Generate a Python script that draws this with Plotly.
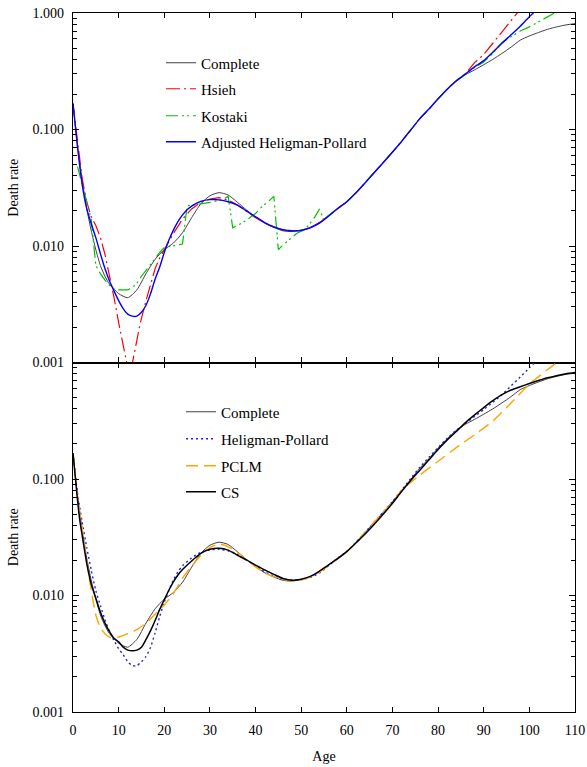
import plotly.graph_objects as go

# ---------------- data ----------------
ages_complete = [0, 1, 2, 3, 4, 5, 6, 7, 8, 10, 12, 14, 16, 18, 20, 22, 24, 26, 28, 30, 32, 34, 36, 38, 40,
                 42, 44, 46, 48, 50, 52, 54, 56, 58, 60, 62, 65, 68, 70, 72, 74, 76, 78, 80, 82, 84, 86, 88,
                 90, 92, 94, 96, 98, 100, 102, 104, 106, 108, 110]
rate_complete = [0.167, 0.072, 0.037, 0.021, 0.0135, 0.0093, 0.0068, 0.0055, 0.0047, 0.0039, 0.0036, 0.0042,
                 0.0058, 0.0077, 0.0093, 0.0106, 0.0130, 0.0175, 0.0230, 0.027, 0.0287, 0.0274, 0.0238, 0.0204,
                 0.0177, 0.0157, 0.0144, 0.0135, 0.0133, 0.0137, 0.0145, 0.016, 0.0183, 0.021, 0.0240, 0.0286,
                 0.0385, 0.052, 0.064, 0.079, 0.099, 0.124, 0.150, 0.184, 0.222, 0.262, 0.295, 0.325, 0.36,
                 0.40, 0.45, 0.51, 0.585, 0.635, 0.68, 0.725, 0.76, 0.79, 0.81]

ages_hsieh = [0, 1, 2, 3, 4, 5, 6, 7, 8, 9, 10, 11, 12, 12.4, 13, 14, 14.7, 16, 17, 18, 19, 20, 21, 22, 24, 26,
              28, 30, 32, 34, 36, 38, 40, 42, 44, 46, 48, 50, 52, 54, 56, 58, 60, 62, 65, 68, 70, 72, 74, 76,
              78, 80, 82, 84, 86, 88, 90, 92, 94, 96, 98, 100]
rate_hsieh = [0.167, 0.075, 0.038, 0.024, 0.0178, 0.0150, 0.0118, 0.0085, 0.0056, 0.0036, 0.0022, 0.00145,
              0.0009, 0.00075, 0.00098, 0.00155, 0.00215, 0.0034, 0.0047, 0.0064, 0.0079, 0.0093, 0.0108,
              0.0128, 0.017, 0.0208, 0.0238, 0.0253, 0.026, 0.0248, 0.0226, 0.0198, 0.0175, 0.0158, 0.0146,
              0.0138, 0.0135, 0.0136, 0.0143, 0.0158, 0.0182, 0.021, 0.0240, 0.0286, 0.0385, 0.052, 0.064,
              0.079, 0.099, 0.124, 0.150, 0.184, 0.222, 0.262, 0.30, 0.375, 0.44, 0.55, 0.69, 0.86, 1.08, 1.35]

ages_kostaki = [1, 2, 3, 4, 5, 6, 7, 8, 9, 10, 11, 12, 13, 14, 15, 16, 17, 18, 19, 20, 21, 22, 23, 24, 25,
                26, 27, 28, 29, 30, 31, 32, 33, 34, 35, 36, 37, 38, 39, 40, 41, 42, 43, 44, 45, 46, 47, 48,
                49, 50, 51, 52, 53, 54, 55, 56, 58, 60, 62, 65, 68, 70, 72, 74, 76, 78, 80, 82, 84, 86, 88,
                90, 92, 94, 96, 98, 100, 102, 104, 106, 108]
rate_kostaki = [0.048, 0.034, 0.0245, 0.017, 0.0068, 0.0058, 0.0051, 0.0046, 0.0043, 0.0042, 0.0042, 0.0042,
                0.0044, 0.0048, 0.0055, 0.0062, 0.0070, 0.0078, 0.0088, 0.0097, 0.0099, 0.0101, 0.0102,
                0.0104, 0.0222, 0.0224, 0.0226, 0.0229, 0.0233, 0.0237, 0.0241, 0.0246, 0.0252, 0.0267,
                0.0143, 0.015, 0.0158, 0.0166, 0.0178, 0.019, 0.021, 0.0225, 0.0245, 0.0267, 0.0093, 0.0102,
                0.011, 0.0119, 0.0128, 0.0134, 0.0141, 0.0158, 0.0178, 0.0208, 0.0166, 0.0183, 0.021, 0.0240,
                0.0286, 0.0385, 0.052, 0.064, 0.079, 0.099, 0.124, 0.150, 0.184, 0.222, 0.262, 0.30, 0.34,
                0.38, 0.45, 0.56, 0.63, 0.70, 0.76, 0.84, 0.93, 1.03, 1.13]

ages_adjhp = [0, 1, 2, 3, 4, 5, 6, 7, 8, 9, 10, 11, 12, 13, 14, 15, 16, 17, 18, 19, 20, 21, 22, 23, 24, 25, 26,
              28, 30, 32, 34, 36, 38, 40, 42, 44, 46, 48, 50, 52, 54, 56, 58, 60, 62, 65, 68, 70, 72, 74, 76,
              78, 80, 82, 84, 86, 88, 90, 92, 94, 96, 98, 100, 102]
rate_adjhp = [0.167, 0.07, 0.034, 0.021, 0.0155, 0.0118, 0.0086, 0.0064, 0.0050, 0.0041, 0.0034, 0.0029,
              0.0026, 0.0025, 0.0025, 0.0027, 0.0031, 0.0039, 0.0052, 0.0066, 0.0088, 0.0112, 0.0137, 0.0162,
              0.0185, 0.0205, 0.0220, 0.0242, 0.025, 0.0249, 0.024, 0.0224, 0.02, 0.0178, 0.0159, 0.0146,
              0.0138, 0.0135, 0.0136, 0.0143, 0.0157, 0.0180, 0.021, 0.0240, 0.0286, 0.0385, 0.052, 0.064,
              0.079, 0.099, 0.124, 0.150, 0.184, 0.222, 0.262, 0.30, 0.345, 0.39, 0.46, 0.55, 0.65, 0.77,
              0.93, 1.1]

ages_hp = [0, 1, 2, 3, 4, 5, 6, 7, 8, 9, 10, 11, 12, 13, 14, 15, 16, 17, 18, 19, 20, 21, 22, 23, 24, 26, 28,
           30, 32, 34, 36, 38, 40, 42, 44, 46, 48, 50, 52, 54, 56, 58, 60, 62, 65, 68, 70, 72, 74, 76, 78, 80,
           82, 84, 86, 88, 90, 92, 94, 96, 98, 100, 102]
rate_hp = [0.167, 0.075, 0.043, 0.026, 0.0165, 0.011, 0.0082, 0.0062, 0.0049, 0.0041, 0.0035, 0.0031, 0.0027,
           0.0025, 0.0025, 0.0027, 0.0030, 0.0036, 0.0048, 0.0066, 0.0088, 0.011, 0.0136, 0.016, 0.0180,
           0.0210, 0.0235, 0.0246, 0.0249, 0.0242, 0.0226, 0.0202, 0.018, 0.016, 0.0147, 0.0139, 0.0136,
           0.0137, 0.0143, 0.0156, 0.018, 0.021, 0.0240, 0.0286, 0.0385, 0.052, 0.064, 0.08, 0.101, 0.126,
           0.154, 0.186, 0.224, 0.263, 0.30, 0.345, 0.395, 0.455, 0.53, 0.63, 0.75, 0.9, 1.08]

ages_pclm = [0, 1, 2, 3, 4, 5, 6, 7, 8, 9, 10, 12, 14, 16, 18, 20, 22, 24, 26, 28, 30, 32, 34, 36, 38, 40, 42,
             44, 46, 48, 50, 52, 54, 56, 58, 60, 62, 65, 68, 70, 72, 76, 80, 84, 88, 92, 96, 100, 104, 106, 108]
rate_pclm = [0.167, 0.07, 0.038, 0.02, 0.011, 0.0068, 0.0053, 0.0047, 0.0044, 0.0043, 0.0044, 0.0047, 0.0051,
             0.0058, 0.0069, 0.0083, 0.0104, 0.0141, 0.0178, 0.022, 0.0258, 0.0277, 0.0262, 0.0235, 0.0203,
             0.0176, 0.0157, 0.0145, 0.0137, 0.0134, 0.0136, 0.0144, 0.0158, 0.0180, 0.0207, 0.0240, 0.0285,
             0.0385, 0.052, 0.063, 0.08, 0.108, 0.142, 0.186, 0.24, 0.315, 0.45, 0.65, 0.87, 1.0, 1.18]

ages_cs = [0, 1, 1.5, 2, 3, 4, 5, 6, 7, 8, 9, 10, 11, 12, 13, 14, 15, 16, 17, 18, 19, 20, 21, 22, 23, 24, 26,
           28, 30, 32, 34, 36, 38, 40, 42, 44, 46, 48, 50, 52, 54, 56, 58, 60, 62, 65, 68, 70, 72, 74, 76, 78,
           80, 82, 84, 86, 88, 90, 92, 94, 96, 98, 100, 102, 104, 106, 108, 110]
rate_cs = [0.167, 0.065, 0.044, 0.033, 0.019, 0.0125, 0.0095, 0.0072, 0.0058, 0.0049, 0.0043, 0.004, 0.0036,
           0.0034, 0.00335, 0.0034, 0.0036, 0.0042, 0.005, 0.0061, 0.0076, 0.0092, 0.0111, 0.0131, 0.0150,
           0.0167, 0.0198, 0.0230, 0.0249, 0.0254, 0.0245, 0.0222, 0.0202, 0.0182, 0.0166, 0.0152, 0.014,
           0.0135, 0.0138, 0.0146, 0.0162, 0.0183, 0.0207, 0.0238, 0.0282, 0.037, 0.050, 0.062, 0.078, 0.097,
           0.119, 0.146, 0.179, 0.216, 0.256, 0.305, 0.355, 0.41, 0.47, 0.53, 0.58, 0.62, 0.66, 0.70, 0.74,
           0.77, 0.80, 0.82]

y_tickvals_top = [0.001, 0.01, 0.1, 1]
y_ticktext_top = ["0.001", "0.010", "0.100", "1.000"]
y_tickvals_bot = [0.001, 0.01, 0.1]
y_ticktext_bot = ["0.001", "0.010", "0.100"]
x_tickvals = list(range(0, 111, 10))
minor_vals = [m * 10 ** e for e in (-3, -2, -1) for m in range(2, 10)]

FONT = "Liberation Serif"

fig = go.Figure()

# ---------- top panel ----------
fig.add_trace(go.Scatter(x=ages_complete, y=rate_complete, name="Complete", mode="lines", showlegend=True,
                         line=dict(color="#404040", width=1, shape="spline", smoothing=0.6),
                         xaxis="x", yaxis="y", legend="legend"))
fig.add_trace(go.Scatter(x=ages_hsieh, y=rate_hsieh, name="Hsieh", mode="lines", showlegend=True,
                         line=dict(color="#ff0000", width=1.2, dash="14px,4px,2px,4px"),
                         xaxis="x", yaxis="y", legend="legend2"))
fig.add_trace(go.Scatter(x=ages_kostaki, y=rate_kostaki, name="Kostaki", mode="lines", showlegend=True,
                         line=dict(color="#00c000", width=1.2, dash="12px,4px,2px,3px,2px,4px"),
                         xaxis="x", yaxis="y", legend="legend3"))
fig.add_trace(go.Scatter(x=ages_adjhp, y=rate_adjhp, name="Adjusted Heligman-Pollard", mode="lines",
                         showlegend=True,
                         line=dict(color="#0000ff", width=1.4, shape="spline", smoothing=0.6),
                         xaxis="x", yaxis="y", legend="legend4"))

# ---------- bottom panel ----------
fig.add_trace(go.Scatter(x=ages_complete, y=rate_complete, name="Complete", mode="lines", showlegend=True,
                         line=dict(color="#404040", width=1, shape="spline", smoothing=0.6),
                         xaxis="x2", yaxis="y2", legend="legend5"))
fig.add_trace(go.Scatter(x=ages_hp, y=rate_hp, name="Heligman-Pollard", mode="lines", showlegend=True,
                         line=dict(color="#2020ff", width=1.4, dash="2px,3px", shape="spline", smoothing=0.6),
                         xaxis="x2", yaxis="y2", legend="legend6"))
fig.add_trace(go.Scatter(x=ages_pclm, y=rate_pclm, name="PCLM", mode="lines", showlegend=True,
                         line=dict(color="#ffa500", width=1.4, dash="12px,6px", shape="spline", smoothing=0.6),
                         xaxis="x2", yaxis="y2", legend="legend7"))
fig.add_trace(go.Scatter(x=ages_cs, y=rate_cs, name="CS", mode="lines", showlegend=True,
                         line=dict(color="#000000", width=1.5, shape="spline", smoothing=0.6),
                         xaxis="x2", yaxis="y2", legend="legend8"))

axis_common = dict(showline=True, linecolor="black", linewidth=1.4, mirror="allticks", ticks="inside",
                   showgrid=False, zeroline=False, tickcolor="black", automargin=False,
                   tickfont=dict(family=FONT, size=14, color="black"))

xcommon = dict(axis_common, range=[0, 110], tickvals=x_tickvals, ticklen=5, tickwidth=1)
ycommon = dict(axis_common, type="log", range=[-3, 0], ticklen=6, tickwidth=1,
               minor=dict(tickvals=minor_vals, ticks="inside", ticklen=4, tickcolor="black", tickwidth=1),
               title=dict(text="Death rate", font=dict(family=FONT, size=14, color="black"), standoff=10),
               ticklabelstandoff=5)

layout = dict(
    width=587, height=767,
    margin=dict(l=73, r=12, t=13, b=55, autoexpand=False),
    paper_bgcolor="white", plot_bgcolor="white",
    showlegend=True,
    font=dict(family=FONT, size=14, color="black"),
    xaxis=dict(xcommon, domain=[0, 1], anchor="y", showticklabels=False),
    yaxis=dict(ycommon, domain=[0.5, 1], anchor="x", tickvals=y_tickvals_top, ticktext=y_ticktext_top),
    xaxis2=dict(xcommon, domain=[0, 1], anchor="y2", showticklabels=True, ticklabelstandoff=5,
                title=dict(text="Age", font=dict(family=FONT, size=14, color="black"), standoff=14)),
    yaxis2=dict(ycommon, domain=[0, 0.5], anchor="x2", tickvals=y_tickvals_bot, ticktext=y_ticktext_bot),
)

def leg(xpx, ypx):
    return dict(x=(xpx - 73) / 502, y=(712 - ypx) / 699, xanchor="left", yanchor="middle",
                bgcolor="rgba(0,0,0,0)", borderwidth=0, font=dict(family=FONT, size=15, color="black"))

top_rows = [63, 89, 116, 142]
bot_rows = [412, 439, 466, 492]
for i, r in enumerate(top_rows):
    layout["legend" if i == 0 else "legend%d" % (i + 1)] = leg(161, r)
for i, r in enumerate(bot_rows):
    layout["legend%d" % (i + 5)] = leg(181, r)

fig.update_layout(**layout)
fig.write_html("out.html")
